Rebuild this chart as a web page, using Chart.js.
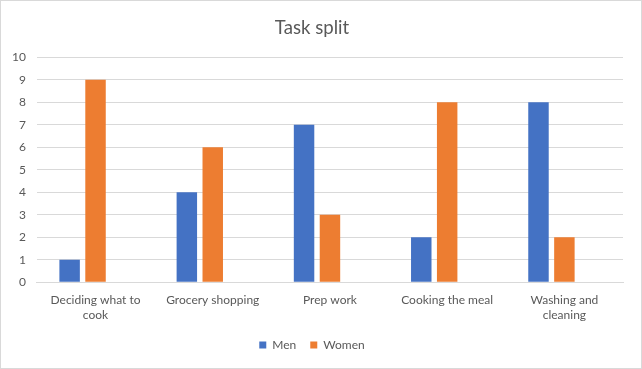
<!DOCTYPE html>
<html>
<head>
<meta charset="utf-8">
<script src="https://cdn.jsdelivr.net/npm/chart.js@4.4.0/dist/chart.umd.min.js"></script>
<style>
  html, body { margin: 0; padding: 0; background: #fff; }
  #wrap { width: 640px; height: 367px; border: 1px solid #d9d9d9; position: relative; }
</style>
</head>
<body>
<div id="wrap"><canvas id="myChart"></canvas></div>
<script>
// categories (multi-line labels as Excel wraps them)
const categories = [
  ['Deciding what to', 'cook'],
  'Grocery shopping',
  'Prep work',
  'Cooking the meal',
  ['Washing and', 'cleaning']
];
const menValues = [1, 4, 7, 2, 8];
const womenValues = [9, 6, 3, 8, 2];
// empty third series in the source workbook, it only takes up room
const blankValues = [null, null, null, null, null];
const yTicks = [0, 1, 2, 3, 4, 5, 6, 7, 8, 9, 10];

const ctx = document.getElementById('myChart');
const grey = '#595959';

new Chart(ctx, {
  type: 'bar',
  data: {
    labels: categories,
    datasets: [{
      label: 'Men',
      data: menValues,
      backgroundColor: '#4472C4'
    }, {
      label: 'Women',
      data: womenValues,
      backgroundColor: '#ED7D31'
    }, {
      label: 'Series3',
      data: blankValues,
      backgroundColor: '#A5A5A5'
    }]
  },
  options: {
    responsive: true,
    maintainAspectRatio: false,
    animation: false,
    categoryPercentage: 0.663,
    barPercentage: 0.79,
    layout: { padding: { left: 0, right: 18, top: 8, bottom: 7 } },
    plugins: {
      title: {
        display: true,
        text: 'Task split',
        color: grey,
        font: { family: 'Lato', size: 18.6, weight: 'normal' },
        padding: { top: 8, bottom: 18 }
      },
      legend: {
        position: 'bottom',
        labels: {
          color: grey,
          font: { family: 'Lato', size: 12 },
          boxWidth: 7,
          boxHeight: 7,
          padding: 14,
          filter: function (item) { return item.datasetIndex < 2; }
        }
      },
      tooltip: { enabled: false }
    },
    scales: {
      x: {
        grid: { display: false },
        border: { color: '#d9d9d9' },
        ticks: {
          color: grey,
          font: { family: 'Lato', size: 12 },
          maxRotation: 0,
          padding: 3
        }
      },
      y: {
        min: 0,
        max: 10,
        afterBuildTicks: function (axis) {
          axis.ticks = yTicks.map(function (v) { return { value: v }; });
        },
        grid: { color: '#d9d9d9', drawTicks: false },
        border: { display: false },
        ticks: {
          color: grey,
          font: { family: 'Lato', size: 12 },
          padding: 11
        }
      }
    }
  }
});
</script>
</body>
</html>
